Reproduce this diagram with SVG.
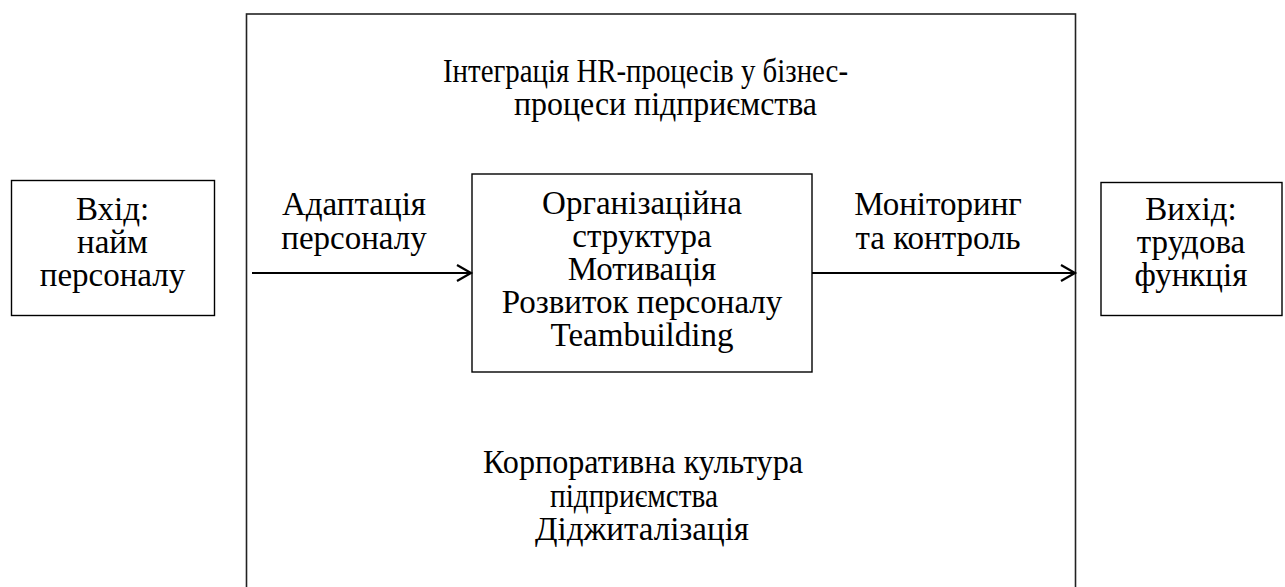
<svg xmlns="http://www.w3.org/2000/svg" width="1285" height="587" viewBox="0 0 1285 587">
<defs>
<style>
text{font-family:"Liberation Serif","Times New Roman",serif;font-size:33px;fill:#000;text-anchor:middle}
.box{fill:#fff;stroke:#000;stroke-width:1.4}
.outer{fill:#fff;stroke:#222;stroke-width:1.6}
.conn{stroke:#000;stroke-width:2.2;fill:none}
</style>
<marker id="arr" markerWidth="20" markerHeight="20" refX="15" refY="9" orient="auto" markerUnits="userSpaceOnUse">
<path d="M1,1 L15,9 L1,17" fill="none" stroke="#000" stroke-width="2.2"/>
</marker>
</defs>
<rect width="1285" height="587" fill="#fff"/>
<g id="outer">
<rect class="outer" x="246.5" y="14" width="829" height="600"/>
<text x="443" y="82" style="text-anchor:start" textLength="405" lengthAdjust="spacingAndGlyphs">Інтеграція HR-процесів у бізнес-</text>
<text x="665.5" y="115" textLength="303" lengthAdjust="spacingAndGlyphs">процеси підприємства</text>
<text x="643" y="473" textLength="320" lengthAdjust="spacingAndGlyphs">Корпоративна культура</text>
<text x="634" y="507" textLength="168" lengthAdjust="spacingAndGlyphs">підприємства</text>
<text x="642" y="540">Діджиталізація</text>
</g>
<g id="input">
<rect class="box" x="11.5" y="180.5" width="203" height="135"/>
<text x="112.5" y="220">Вхід:</text>
<text x="112.5" y="253">найм</text>
<text x="112.5" y="286">персоналу</text>
</g>
<g id="core">
<rect class="box" x="472" y="174" width="340" height="198"/>
<text x="642" y="214">Організаційна</text>
<text x="642" y="247">структура</text>
<text x="642" y="280">Мотивація</text>
<text x="642" y="313">Розвиток персоналу</text>
<text x="642" y="346">Teambuilding</text>
</g>
<g id="output">
<rect class="box" x="1101" y="182.5" width="181" height="133"/>
<text x="1191" y="220">Вихід:</text>
<text x="1191" y="253">трудова</text>
<text x="1191" y="286">функція</text>
</g>
<g id="connectors">
<line class="conn" x1="252" y1="273" x2="471" y2="273" marker-end="url(#arr)"/>
<line class="conn" x1="812" y1="273" x2="1075" y2="273" marker-end="url(#arr)"/>
<text x="354" y="215">Адаптація</text>
<text x="354" y="249">персоналу</text>
<text x="938" y="215">Моніторинг</text>
<text x="938" y="249">та контроль</text>
</g>
</svg>
